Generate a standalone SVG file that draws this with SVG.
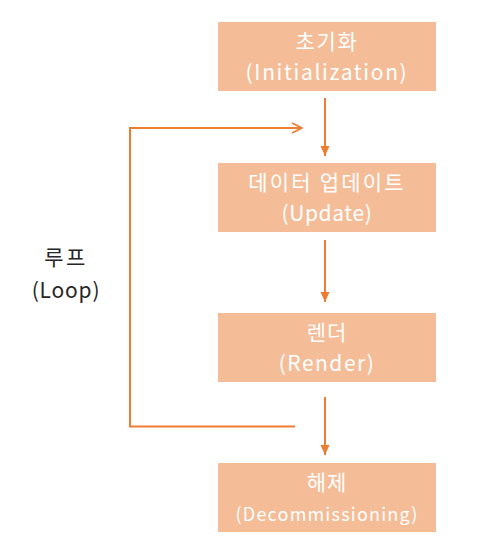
<svg xmlns="http://www.w3.org/2000/svg" width="481" height="559" viewBox="0 0 481 559">
<style>
.box{fill:#F4BD98}
.t{font-family:"Noto Sans CJK KR","Noto Sans",sans-serif;fill:#fff;font-size:21px;text-anchor:middle}
.lbl{font-family:"Noto Sans CJK KR","Noto Sans",sans-serif;fill:#262626;font-size:21px;text-anchor:middle}
.c{stroke:#ED7D31;stroke-width:2;fill:none}
</style>
<defs>
<marker id="tri" viewBox="0 0 10 10" refX="10" refY="5" markerWidth="10" markerHeight="10" markerUnits="userSpaceOnUse" orient="auto">
<path d="M0,0.5 L10,5 L0,9.5 z" fill="#ED7D31"/>
</marker>
<marker id="open" viewBox="0 0 12 12" refX="11" refY="6" markerWidth="12" markerHeight="12" markerUnits="userSpaceOnUse" orient="auto">
<path d="M1,1 L11,6 L1,11" fill="none" stroke="#ED7D31" stroke-width="1.8"/>
</marker>
</defs>
<rect width="481" height="559" fill="#fff"/>
<g id="init"><rect class="box" x="218" y="22" width="218" height="69"/>
<text class="t" x="327" y="49" letter-spacing="1.7">초기화</text><text class="t" x="327" y="79.5" letter-spacing="1.65">(Initialization)</text></g>
<g id="update"><rect class="box" x="218" y="163" width="218" height="69"/>
<text class="t" x="327" y="190" letter-spacing="2.2">데이터 업데이트</text><text class="t" x="327" y="220.5" letter-spacing="0.6">(Update)</text></g>
<g id="render"><rect class="box" x="218" y="313" width="218" height="69"/>
<text class="t" x="327" y="340" letter-spacing="1">렌더</text><text class="t" x="327" y="370.5" letter-spacing="1.5">(Render)</text></g>
<g id="decom"><rect class="box" x="218" y="463" width="218" height="69"/>
<text class="t" x="327" y="490" letter-spacing="1">해제</text><text class="t" x="327" y="521" style="font-size:18px" letter-spacing="1.2">(Decommissioning)</text></g>
<g id="loop-label"><text class="lbl" x="66" y="265" letter-spacing="2.5">루프</text><text class="lbl" x="66" y="298" letter-spacing="0.8">(Loop)</text></g>
<g id="connectors">
<line class="c" x1="325" y1="98" x2="325" y2="156" marker-end="url(#tri)"/>
<line class="c" x1="325" y1="240" x2="325" y2="302" marker-end="url(#tri)"/>
<line class="c" x1="325" y1="397" x2="325" y2="455" marker-end="url(#tri)"/>
<polyline class="c" points="295,426.5 130,426.5 130,128 302,128" marker-end="url(#open)"/>
</g>
</svg>
